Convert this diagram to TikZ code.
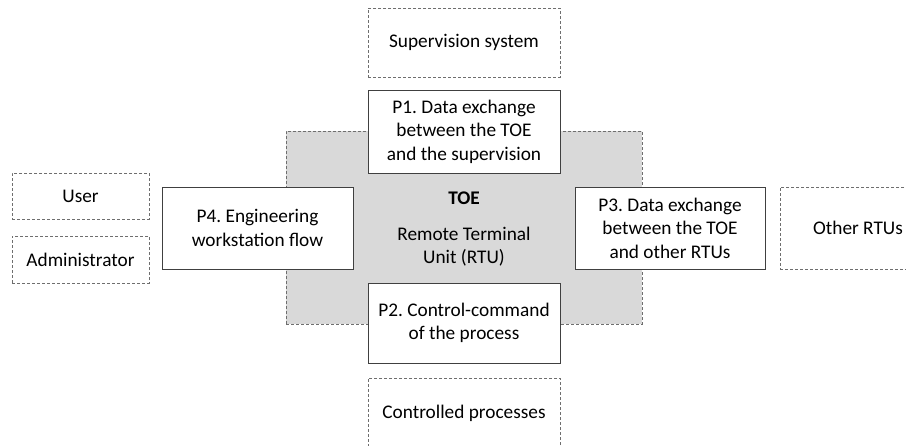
\documentclass[tikz,border=0pt]{standalone}
\usepackage{fontspec}
\setmainfont{Carlito}
\frenchspacing
\definecolor{dashgray}{HTML}{6E6E6E}
\definecolor{boxline}{HTML}{404040}
\definecolor{toefill}{HTML}{D9D9D9}
\begin{document}
\begin{tikzpicture}[x=1pt,y=-1pt,
  every node/.style={font=\fontsize{19.3}{23.5}\selectfont, align=center, inner sep=0pt, text=black},
  extbox/.style={draw=dashgray, line width=0.8pt, dash pattern=on 3pt off 2pt, fill=white},
  pbox/.style={draw=boxline, line width=0.9pt, fill=white},
  toebox/.style={draw=dashgray, line width=0.8pt, dash pattern=on 3pt off 2pt, fill=toefill}]
\useasboundingbox (0,0) rectangle (906,445);
\node[toebox, minimum width=356pt, minimum height=193pt] (toe) at (464,227.5) {};
\node (toelabel) at (464,198) {\textbf{TOE}};
\node (rtu) at (464,246.5) {Remote Terminal\\Unit (RTU)};
\node[extbox, minimum width=192pt, minimum height=69pt] (sup) at (464,42.5) {Supervision system};
\node[pbox, minimum width=192pt, minimum height=83pt] (p1) at (464,131.5) {P1. Data exchange\\between the TOE\\and the supervision};
\node[pbox, minimum width=192pt, minimum height=80pt] (p2) at (464,323) {P2. Control-command\\of the process};
\node[extbox, minimum width=192pt, minimum height=70pt] (ctl) at (464,413) {Controlled processes};
\node[pbox, minimum width=191pt, minimum height=82pt] (p4) at (257.5,228) {P4. Engineering\\workstation flow};
\node[extbox, minimum width=137pt, minimum height=46pt] (user) at (80.5,196) {User};
\node[extbox, minimum width=137pt, minimum height=47pt] (admin) at (80.5,259.5) {Administrator};
\node[pbox, minimum width=190pt, minimum height=82pt] (p3) at (670,228) {P3. Data exchange\\between the TOE\\and other RTUs};
\node[extbox, minimum width=156pt, minimum height=82pt] (other) at (858,228) {Other RTUs};
\end{tikzpicture}
\end{document}
